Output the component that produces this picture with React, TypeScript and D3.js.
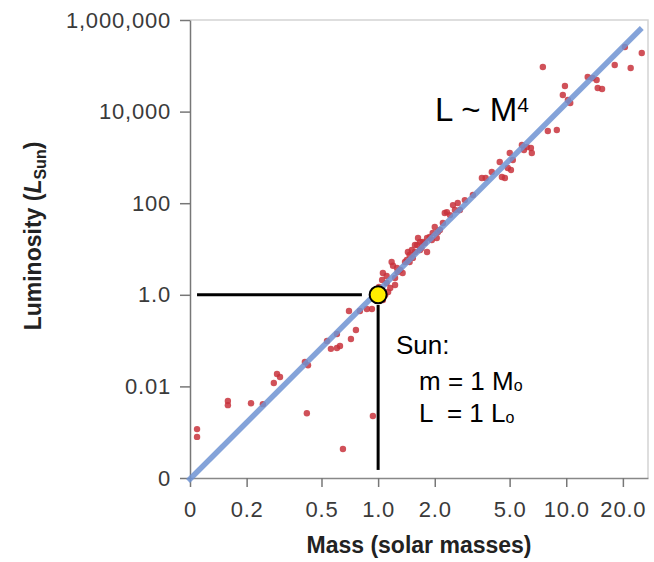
import { useEffect, useRef } from 'react'
import * as d3 from 'd3'

// axis ticks (log scales, the "0" ticks sit at the lower ends)
const massTicks = [0.1, 0.2, 0.5, 1, 2, 5, 10, 20]
const massTickLabels = ['0', '0.2', '0.5', '1.0', '2.0', '5.0', '10.0', '20.0']
const lumTicks = [1e-4, 1e-2, 1, 1e2, 1e4, 1e6]
const lumTickLabels = ['0', '0.01', '1.0', '100', '10,000', '1,000,000']

// stars: mass (solar masses) and luminosity (L sun)
const starMass = [
  0.109, 0.109, 0.159, 0.159, 0.211, 0.244, 0.279, 0.29, 0.301, 0.408,
  0.424, 0.418, 0.535, 0.561, 0.604, 0.627, 0.604, 0.717, 0.762, 0.7,
  0.8, 0.871, 0.927, 0.65, 0.938,
  1.06, 1.09, 1.05, 1.06, 1.11, 1.16, 1.18, 1.2, 1.23, 1.27,
  1.31, 1.35, 1.39, 1.42, 1.47, 1.51, 1.53, 1.61, 1.67, 1.73,
  1.82, 1.44, 1.57, 1.67, 1.77, 1.82, 1.88, 1.95, 2.0, 2.05,
  2.21, 2.26, 2.32, 2.5, 2.56, 2.65, 2.72, 3.19, 1.23, 1.13,
  1.63, 2.13, 1.01, 1.26, 1.47, 1.57, 1.7, 1.93, 2.08, 2.41,
  2.89, 1.11,
  3.56, 3.73, 4.02, 4.43, 4.55, 4.72, 4.89, 5.08, 5.01, 5.2,
  5.81, 5.96, 6.18, 6.49, 6.56, 7.98, 8.91, 7.51, 9.84, 9.59,
  10.2, 10.5, 13.0, 13.8, 14.5, 14.7, 15.5, 18.1, 20.5, 22.0, 25.2
]
const starLum = [
  0.00117, 0.00079, 0.0048, 0.0039, 0.0043, 0.0041, 0.0119, 0.0187, 0.016, 0.034,
  0.029, 0.0026, 0.098, 0.066, 0.069, 0.076, 0.139, 0.108, 0.17, 0.443,
  0.443, 0.49, 0.49, 0.00043, 0.00226,
  0.77, 0.99, 2.1, 3.0, 1.81, 1.41, 5.2, 4.3, 2.33, 3.15,
  3.5, 3.0, 5.2, 5.75, 7.4, 9.5, 6.4, 12.2, 9.5, 14.2,
  17.4, 8.6, 12.2, 14.2, 13.5, 8.6, 18.3, 22.3, 30.2, 17.4,
  37, 61, 64, 91, 71, 101, 71, 151, 1.64, 1.15,
  17.4, 26, 1.48, 3.85, 5.2, 8.6, 10.5, 15.7, 23.5, 55,
  117, 2.57,
  355, 355, 480, 794, 373, 355, 587, 531, 1250, 877,
  1866, 1452, 1687, 1603, 1250, 3770, 3960, 94200, 36200, 23000,
  17900, 15400, 56900, 54200, 49000, 32700, 31100, 104000, 257000, 89600, 190000
]

// fitted L ~ M^4 line as drawn
const fitMass = [0.0976, 25.2]
const fitLum = [8.6e-5, 6.7e5]

// the Sun and its guide lines
const sunMass = 1
const sunLum = 1
const guideMass = [0.109, 0.82]
const guideLum = [0.6, 0.00015]

const FONT = '"Liberation Sans", Arial, Helvetica, sans-serif'

function App() {
  const svgRef = useRef<SVGSVGElement | null>(null)

  useEffect(() => {
    document.body.style.margin = '0'
    if (!svgRef.current) return
    d3.select(svgRef.current).selectAll('*').remove()

    const W = 654
    const H = 562
    const margin = { top: 20, right: 6, bottom: 84, left: 190 }
    const width = W - margin.left - margin.right
    const height = H - margin.top - margin.bottom

    const root = d3.select(svgRef.current)
      .attr('width', W)
      .attr('height', H)
      .style('font-family', FONT)

    const svg = root.append('g')
      .attr('transform', `translate(${margin.left},${margin.top})`)

    const x = d3.scaleLog().domain([0.1, 27.2]).range([0, width])
    const y = d3.scaleLog().domain([1e-4, 1e6]).range([height, 0])

    // light frame on top and right
    svg.append('path')
      .attr('d', `M0,0H${width}V${height}`)
      .attr('fill', 'none')
      .attr('stroke', '#d4d4d4')
      .attr('stroke-width', 1.5)

    // axes
    const yAxis = svg.append('g')
      .call(d3.axisLeft(y)
        .tickValues(lumTicks)
        .tickFormat((d, i) => lumTickLabels[i])
        .tickSize(10)
        .tickSizeOuter(0)
        .tickPadding(9))
    yAxis.select('.domain').attr('stroke', '#777').attr('stroke-width', 1.5)
    yAxis.selectAll('.tick line').attr('stroke', '#777').attr('stroke-width', 1.5)
    yAxis.selectAll('.tick text')
      .style('font-size', '22px')
      .style('font-family', FONT)
      .style('letter-spacing', '0.8px')
      .attr('fill', '#3a3a3a')

    const xAxis = svg.append('g')
      .attr('transform', `translate(0,${height})`)
      .call(d3.axisBottom(x)
        .tickValues(massTicks)
        .tickFormat((d, i) => massTickLabels[i])
        .tickSize(9)
        .tickSizeOuter(0)
        .tickPadding(14))
    xAxis.select('.domain').attr('stroke', '#888').attr('stroke-width', 1.5)
    xAxis.selectAll('.tick line').attr('stroke', '#777').attr('stroke-width', 1.5)
    xAxis.selectAll('.tick text')
      .style('font-size', '22px')
      .style('font-family', FONT)
      .style('letter-spacing', '0.8px')
      .attr('fill', '#3a3a3a')

    // axis titles
    svg.append('text')
      .attr('x', width / 2)
      .attr('y', height + 75)
      .attr('text-anchor', 'middle')
      .style('font-size', '23px')
      .style('font-weight', 'bold')
      .attr('fill', '#222')
      .text('Mass (solar masses)')

    const yTitle = root.append('text')
      .attr('transform', 'translate(41,236) rotate(-90)')
      .attr('text-anchor', 'middle')
      .style('font-size', '23px')
      .style('font-weight', 'bold')
      .attr('fill', '#222')
    yTitle.append('tspan').text('Luminosity (')
    yTitle.append('tspan').style('font-style', 'italic').text('L')
    yTitle.append('tspan').attr('dy', 5).style('font-size', '16px').text('Sun')
    yTitle.append('tspan').attr('dy', -5).text(')')

    // stars
    const stars = starMass.map((m, i) => ({ m, l: starLum[i] }))
    svg.selectAll('circle.star')
      .data(stars)
      .enter()
      .append('circle')
      .attr('class', 'star')
      .attr('cx', d => x(d.m))
      .attr('cy', d => y(d.l))
      .attr('r', 3.2)
      .attr('fill', '#c8323c')
      .attr('opacity', 0.85)

    // L ~ M^4 line
    const line = d3.line<{ m: number, l: number }>()
      .x(d => x(d.m))
      .y(d => y(d.l))
    svg.append('path')
      .datum(fitMass.map((m, i) => ({ m, l: fitLum[i] })))
      .attr('d', line)
      .attr('fill', 'none')
      .attr('stroke', '#6f93d2')
      .attr('stroke-width', 5.5)
      .attr('opacity', 0.85)

    // Sun guide lines
    svg.append('path')
      .datum(guideMass.map(m => ({ m, l: sunLum })))
      .attr('d', line)
      .attr('stroke', '#000')
      .attr('stroke-width', 3)
    svg.append('path')
      .datum(guideLum.map(l => ({ m: sunMass, l })))
      .attr('d', line)
      .attr('stroke', '#000')
      .attr('stroke-width', 3)

    svg.append('circle')
      .attr('cx', x(sunMass))
      .attr('cy', y(sunLum))
      .attr('r', 8.5)
      .attr('fill', '#ffee00')
      .attr('stroke', '#000')
      .attr('stroke-width', 2)

    // annotations
    const law = root.append('text')
      .attr('x', 435)
      .attr('y', 121)
      .style('font-size', '33px')
      .attr('fill', '#000')
    law.append('tspan').text('L ~ M')
    law.append('tspan').attr('dy', -9).style('font-size', '21px').text('4')

    const note = root.append('g')
      .style('font-size', '26px')
      .attr('fill', '#000')
    note.append('text').attr('x', 396).attr('y', 354).text('Sun:')
    const mLine = note.append('text').attr('x', 419).attr('y', 390)
    mLine.append('tspan').text('m = 1 M')
    mLine.append('tspan').attr('dy', 1).style('font-size', '16px').text('o')
    const lLine = note.append('text').attr('x', 419).attr('y', 422).attr('xml:space', 'preserve')
      .style('white-space', 'pre')
    lLine.append('tspan').text('L  = 1 L')
    lLine.append('tspan').attr('dy', 1).style('font-size', '16px').text('o')
  }, [])

  return (
    <div style={{ width: 654, height: 562, background: '#fff' }}>
      <svg ref={svgRef} style={{ display: 'block' }}></svg>
    </div>
  )
}

export default App
